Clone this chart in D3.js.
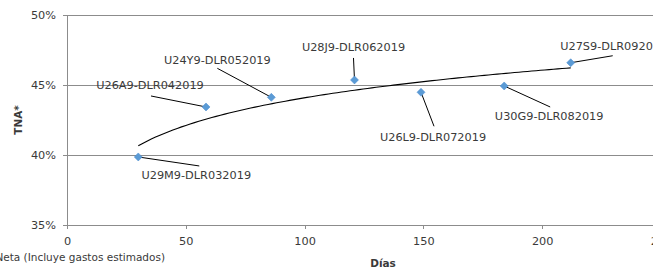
<!DOCTYPE html>
<html>
<head>
<meta charset="utf-8">
<script src="https://cdn.jsdelivr.net/npm/d3@7"></script>
<style>
  html, body { margin: 0; padding: 0; background: #fff; overflow: hidden; }
  svg { display: block; }
</style>
</head>
<body>
<div id="container"></div>
<script>
// Bonos / letras: plazo en días vs TNA
const names = ['U29M9-DLR032019', 'U26A9-DLR042019', 'U24Y9-DLR052019', 'U28J9-DLR062019',
               'U26L9-DLR072019', 'U30G9-DLR082019', 'U27S9-DLR092019'];
const days  = [30, 58.5, 86, 121, 149, 184, 212];
const tna   = [0.3986, 0.4343, 0.4412, 0.4536, 0.4448, 0.4493, 0.4659];

const xTicks = [0, 50, 100, 150, 200, 250];
const yTicks = [0.35, 0.40, 0.45, 0.50];

// label placement: [text dx, text dy, leader dx, leader dy] relative to point (px)
const labelOffsets = [
  [58, 19, 61, 9],
  [-56, -21, -55, -11],
  [-54, -37, -54, -29],
  [-1, -32, -1, -22],
  [12, 45, 13, 34],
  [45, 31, 46, 21],
  [43, -16, 42, -7],
];

// ---------------------------------------------------------------------------
const W = 653, H = 270;
const font = 'Century Gothic, DejaVu Sans, sans-serif';
const textColor = '#3a3a3a';
const gridColor = '#8c8c8c';

const x = d3.scaleLinear().domain([0, 250]).range([67, 661]);
const y = d3.scaleLinear().domain([0.35, 0.50]).range([225, 15]);

const svg = d3.select('#container').append('svg')
  .attr('width', W).attr('height', H);

// gridlines
svg.append('g').selectAll('line').data(yTicks.filter(d => d > 0.35)).join('line')
  .attr('x1', x(0)).attr('x2', W)
  .attr('y1', d => y(d)).attr('y2', d => y(d))
  .attr('stroke', gridColor).attr('stroke-width', 1).attr('shape-rendering', 'crispEdges');

// y axis
const yAxis = svg.append('g')
  .attr('transform', `translate(${x(0)},0)`)
  .call(d3.axisLeft(y).tickValues(yTicks).tickFormat(d3.format('.0%')).tickSize(4).tickPadding(7));
yAxis.select('.domain').attr('stroke', gridColor).attr('shape-rendering', 'crispEdges');
yAxis.selectAll('.tick line').attr('stroke', gridColor).attr('shape-rendering', 'crispEdges');
yAxis.selectAll('text').attr('fill', textColor).attr('font-family', font).attr('font-size', '11.3px');

// x axis
const xAxis = svg.append('g')
  .attr('transform', `translate(0,${y(0.35)})`)
  .call(d3.axisBottom(x).tickValues(xTicks).tickSize(4).tickPadding(8));
xAxis.select('.domain').attr('stroke', gridColor).attr('shape-rendering', 'crispEdges');
svg.append('line').attr('x1', x(0)).attr('x2', W).attr('y1', y(0.35)).attr('y2', y(0.35))
  .attr('stroke', gridColor).attr('shape-rendering', 'crispEdges');
xAxis.selectAll('.tick line').attr('stroke', gridColor).attr('shape-rendering', 'crispEdges');
xAxis.selectAll('text').attr('fill', textColor).attr('font-family', font).attr('font-size', '11.3px');

// axis titles
svg.append('text')
  .attr('transform', `translate(22,${(y(0.35) + y(0.5)) / 2}) rotate(-90)`)
  .attr('text-anchor', 'middle')
  .attr('font-family', font).attr('font-size', '10.5px').attr('font-weight', 'bold')
  .attr('fill', textColor).text('TNA*');

svg.append('text')
  .attr('x', 383).attr('y', 267)
  .attr('text-anchor', 'middle')
  .attr('font-family', font).attr('font-size', '10.5px').attr('font-weight', 'bold')
  .attr('fill', textColor).text('Días');

svg.append('text')
  .attr('x', 165).attr('y', 261)
  .attr('text-anchor', 'end')
  .attr('font-family', font).attr('font-size', '10.5px')
  .attr('fill', textColor).text('*TNA: Tasa Nominal Anual Neta (Incluye gastos estimados)');

// logarithmic trendline (least squares on ln(x))
const lx = days.map(Math.log);
const mx = d3.mean(lx), my = d3.mean(tna);
const b = d3.sum(lx, (v, i) => (v - mx) * (tna[i] - my)) / d3.sum(lx, v => (v - mx) ** 2);
const a = my - b * mx;
const trendX = d3.range(0, 101).map(i => days[0] + (days[days.length - 1] - days[0]) * i / 100);
svg.append('path')
  .datum(trendX)
  .attr('fill', 'none').attr('stroke', '#000').attr('stroke-width', 1.1)
  .attr('d', d3.line().x(d => x(d)).y(d => y(a + b * Math.log(d))));

// leader lines
const pts = days.map((d, i) => ({ name: names[i], px: x(d), py: y(tna[i]), off: labelOffsets[i] }));
svg.append('g').selectAll('line').data(pts).join('line')
  .attr('x1', d => d.px).attr('y1', d => d.py)
  .attr('x2', d => d.px + d.off[2]).attr('y2', d => d.py + d.off[3])
  .attr('stroke', '#000').attr('stroke-width', 1);

// markers
svg.append('g').selectAll('path').data(pts).join('path')
  .attr('transform', d => `translate(${d.px},${d.py}) rotate(45)`)
  .attr('d', d3.symbol(d3.symbolSquare, 32))
  .attr('fill', '#5b9bd5').attr('stroke', '#4a8bcf').attr('stroke-width', 0.5);

// labels
svg.append('g').selectAll('text').data(pts).join('text')
  .attr('x', d => d.px + d.off[0]).attr('y', d => d.py + d.off[1])
  .attr('text-anchor', 'middle').attr('dominant-baseline', 'central')
  .attr('font-family', font).attr('font-size', '11.3px')
  .attr('fill', textColor).text(d => d.name);
</script>
</body>
</html>
